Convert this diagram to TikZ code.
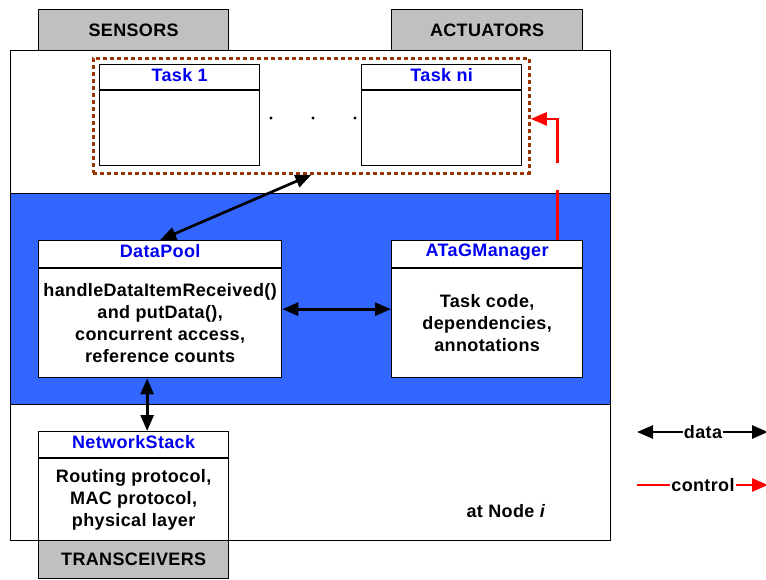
\documentclass[tikz,border=0pt]{standalone}
\usepackage{fontspec}
\setmainfont{Liberation Sans}[LetterSpace=2]
\usetikzlibrary{arrows.meta, positioning}

\definecolor{bandblue}{RGB}{51,102,255}
\definecolor{iogray}{RGB}{192,192,192}
\definecolor{titleblue}{RGB}{0,0,240}
\definecolor{taskbrown}{RGB}{153,51,0}

\begin{document}
\begin{tikzpicture}[
  x=1pt, y=-1pt,
  every node/.style={font=\bfseries\fontsize{18}{22}\selectfont, align=center},
  frame/.style={draw, line width=1.3pt, inner sep=0pt, anchor=north west},
  iobox/.style={frame, fill=iogray},
  classbox/.style={frame, fill=white},
  title/.style={text=titleblue, below=4pt of #1, inner sep=0pt},
  data/.style={line width=2.7pt, {Triangle[length=16pt,width=13pt]}-{Triangle[length=16pt,width=13pt]}},
  ctl/.style={line width=2.7pt, red, -{Triangle[length=16pt,width=13pt]}},
]
\useasboundingbox (0,0) rectangle (766,579);

% Inputs and outputs
\node[iobox, minimum width=190pt, minimum height=41pt] (sensors) at (38,9) {SENSORS};
\node[iobox, minimum width=191pt, minimum height=41pt] (actuators) at (391,9) {ACTUATORS};
\node[iobox, minimum width=190pt, minimum height=38pt] (transceivers) at (38,540) {TRANSCEIVERS};

% Node frame and middleware band
\node[frame, fill=white, minimum width=600pt, minimum height=490pt] (frame) at (10,50) {};
\node[frame, fill=bandblue, minimum width=600pt, minimum height=211pt] (band) at (10,193) {};

% Tasks
\node[classbox, minimum width=160pt, minimum height=101pt] (task1) at (99,64) {};
\node[classbox, minimum width=160pt, minimum height=101pt] (taskn) at (361,64) {};
\node[title=task1.north] {Task 1};
\node[title=taskn.north] {Task ni};
\draw[line width=1.3pt] ([yshift=-26pt]task1.north west) -- ([yshift=-26pt]task1.north east);
\draw[line width=1.3pt] ([yshift=-26pt]taskn.north west) -- ([yshift=-26pt]taskn.north east);
\foreach \x in {271,313,355}
  \fill (\x,118) circle (1.7pt);
\node[draw=taskbrown, line width=2.8pt, dash pattern=on 4pt off 3pt,
      inner sep=0pt, anchor=north west, minimum width=436pt, minimum height=115pt] (tasks) at (92,57) {};

% Middleware modules
\node[classbox, minimum width=243pt, minimum height=137pt] (datapool) at (38,240) {};
\node[title=datapool.north] {DataPool};
\draw[line width=1.3pt] ([yshift=-28pt]datapool.north west) -- ([yshift=-28pt]datapool.north east);
\node at ([yshift=-14pt]datapool.center) {handleDataItemReceived()\\ and putData(),\\ concurrent access,\\ reference counts};

\node[classbox, minimum width=191pt, minimum height=137pt] (atag) at (391,240) {};
\node[title=atag.north] {ATaGManager};
\draw[line width=1.3pt] ([yshift=-28pt]atag.north west) -- ([yshift=-28pt]atag.north east);
\node at ([yshift=-14pt]atag.center) {Task code,\\ dependencies,\\ annotations};

\node[classbox, minimum width=190pt, minimum height=109pt] (netstack) at (38,431) {};
\node[title=netstack.north] {NetworkStack};
\draw[line width=1.3pt] ([yshift=-27pt]netstack.north west) -- ([yshift=-27pt]netstack.north east);
\node at ([yshift=-14pt]netstack.center) {Routing protocol,\\ MAC protocol,\\ physical layer};

\node (nodei) at (506,511) {at Node \textit{i}};

% Connectors
\draw[data] (tasks.south) -- (datapool.north);
\draw[data] (datapool.east) -- (atag.west);
\draw[data] ([xshift=-13pt]datapool.south) -- ([xshift=-13pt]datapool.south |- netstack.north);
\coordinate (ctlbreak) at ([xshift=-26pt]atag.north east |- 0,163);
\draw[line width=2.7pt, red] ([xshift=-26pt]atag.north east) -- ([xshift=-26pt]atag.north east |- 0,190);
\draw[ctl] (ctlbreak) |- ([yshift=-3pt]tasks.east);

% Legend
\node[inner sep=1pt] (datakey) at (703,432) {data};
\node[inner sep=1pt] (ctlkey) at (703,485) {control};
\coordinate (datal) at (637,432);
\coordinate (datar) at (768,432);
\coordinate (ctll) at (637,485);
\coordinate (ctlr) at (768,485);
\draw[line width=2.7pt, -{Triangle[length=16pt,width=13pt]}] (datakey.west) -- (datal);
\draw[line width=2.7pt, -{Triangle[length=16pt,width=13pt]}] (datakey.east) -- (datar);
\draw[line width=2.7pt, red] (ctll) -- (ctlkey.west);
\draw[ctl] (ctlkey.east) -- (ctlr);
\end{tikzpicture}
\end{document}
